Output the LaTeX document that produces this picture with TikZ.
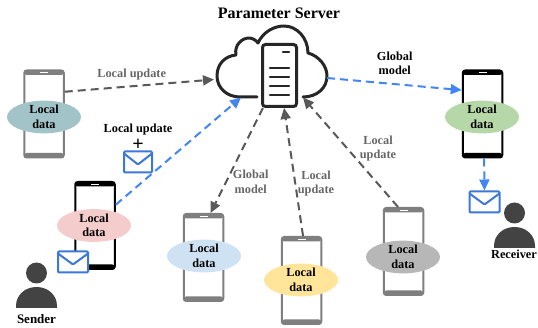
\documentclass[tikz,border=0pt]{standalone}
\usepackage{fontspec}
\setmainfont{Liberation Serif}
\usepackage{tikz}
\usetikzlibrary{arrows.meta, positioning, shapes.geometric}

\definecolor{flblue}{HTML}{4285F4}
\definecolor{mailblue}{HTML}{3C78D8}
\definecolor{flgray}{HTML}{595959}
\definecolor{phonegray}{HTML}{7F7F7F}
\definecolor{persongray}{HTML}{434343}
\definecolor{labelgray}{HTML}{666666}
\definecolor{cloudblack}{HTML}{262626}
\definecolor{datateal}{HTML}{A2C4C9}
\definecolor{datared}{HTML}{F4CCCC}
\definecolor{datablue}{HTML}{CFE2F3}
\definecolor{datayellow}{HTML}{FFE599}
\definecolor{datagray}{HTML}{B7B7B7}
\definecolor{datagreen}{HTML}{B6D7A8}

\tikzset{
   x=1pt, y=-1pt,
   txt/.style = {font=\bfseries\fontsize{12.3}{14.5}\selectfont, align=center, inner sep=0pt},
   graytxt/.style = {txt, text=labelgray},
   dataell/.style = {ellipse, minimum width=74pt, minimum height=26pt, inner sep=0pt, txt},
   upline/.style = {-{Triangle[length=11pt,width=10pt]}, flgray, line width=2pt, dash pattern=on 8pt off 5pt},
   blueline/.style = {-{Triangle[length=11pt,width=10pt]}, flblue, line width=2pt, dash pattern=on 8pt off 5pt},
   phonebox/.style = {rectangle, draw=#1, fill=white, rounded corners=2.5pt, line width=2pt,
      minimum width=39.5pt, minimum height=87pt, inner sep=0pt,
      path picture={
         \fill[#1] (path picture bounding box.north west) rectangle ([yshift=-4.5pt]path picture bounding box.north east);
         \fill[#1] (path picture bounding box.south west) rectangle ([yshift=4.5pt]path picture bounding box.south east);
         \draw[white, line width=.8pt] ([xshift=-4pt,yshift=-2pt]path picture bounding box.north) -- ([xshift=4pt,yshift=-2pt]path picture bounding box.north);
      }},
   mailbox/.style = {rectangle, draw=mailblue, fill=white, rounded corners=1pt, line width=2pt,
      minimum width=#1, minimum height=21pt, inner sep=0pt,
      path picture={
         \draw[mailblue, line width=2pt, line join=round] ([yshift=-2pt]path picture bounding box.north west)
            -- ([yshift=-13pt]path picture bounding box.north) -- ([yshift=-2pt]path picture bounding box.north east);
      }},
   serverbox/.style = {rectangle, draw=cloudblack, fill=white, rounded corners=3pt, line width=3pt,
      minimum width=34pt, minimum height=62pt, inner sep=0pt},
   serverbar/.style = {cloudblack, line width=2.6pt, line cap=round},
   personfill/.style = {fill=persongray},
}

\begin{document}
\begin{tikzpicture}
   \useasboundingbox (0,0) rectangle (538,328);

   % phones
   \node (p1)[phonebox=phonegray] at (44,114) {};
   \node (p2)[phonebox=black] at (95,225.5) {};
   \node (p3)[phonebox=phonegray] at (203.5,257.5) {};
   \node (p4)[phonebox=phonegray] at (301.5,280.5) {};
   \node (p5)[phonebox=phonegray] at (403.5,251.5) {};
   \node (p6)[phonebox=black] at (482.5,114) {};

   % cloud
   \draw[cloudblack, line width=3pt, line cap=round, line join=round]
      (257,97) -- (240,97) .. controls (227,97) and (217,88) .. (217,76)
      .. controls (217,64) and (225,56) .. (236,55)
      .. controls (234,45) and (242,38) .. (249,38)
      .. controls (252,38) and (256,40) .. (258,43)
      .. controls (263,32) and (274,26) .. (284,26)
      .. controls (297,26) and (308,38) .. (308,53)
      .. controls (319,56) and (327,66) .. (327,76)
      .. controls (327,88) and (317,97) .. (303,97);
   \coordinate (cloudw) at (214,79.5);
   \coordinate (cloudsw) at (241,97.5);
   \coordinate (cloudse) at (303,97.5);
   \coordinate (cloude) at (327,78);

   % server
   \node (srv)[serverbox] at (279.5,75.5) {};
   \foreach \y in {68,77,86,95} \draw[serverbar] (270,\y) -- (289,\y);
   \draw[serverbar] (283,52) -- (289,52);

   % mails
   \node (m1)[mailbox=28pt] at (138,162) {};
   \node (m3)[mailbox=30pt] at (484.5,202) {};

   % data
   \node (d1)[dataell, fill=datateal] at (44,117) {Local\\data};
   \node (d2)[dataell, fill=datared] at (94,225.5) {Local\\data};
   \node (d3)[dataell, fill=datablue] at (204,256) {Local\\data};
   \node (d4)[dataell, fill=datayellow] at (301,280) {Local\\data};
   \node (d5)[dataell, fill=datagray] at (403,257) {Local\\data};
   \node (d6)[dataell, fill=datagreen] at (482,117) {Local\\data};

   \node (m2)[mailbox=30pt] at (73,262) {};

   % links
   \draw[upline](p1.47) -- (cloudw);
   \draw[blueline](p2.45) -- (cloudsw);
   \draw[upline](srv.243) -- (p3.81);
   \draw[upline](p4.88) -- (srv.278);
   \draw[upline](p5.97) -- (cloudse);
   \draw[blueline](cloude) -- (p6.131);
   \draw[blueline](p6.272) -- (m3.north);

   % users
   \fill[personfill] (36.5,273) circle (10.5);
   \fill[personfill] (16,308) -- (16,306) .. controls (16,295) and (25,287) .. (36.5,287)
      .. controls (48,287) and (57,295) .. (57,306) -- (57,308) -- cycle;
   \fill[personfill] (514.5,213) circle (10.5);
   \fill[personfill] (494,248) -- (494,246) .. controls (494,235) and (503,227) .. (514.5,227)
      .. controls (526,227) and (535,235) .. (535,246) -- (535,248) -- cycle;

   % labels
   \node (title)[txt, font=\bfseries\fontsize{16}{18}\selectfont] at (279,13) {Parameter Server};
   \node (lab1)[graytxt] at (131.7,75) {Local update};
   \node (lab2)[txt] at (138,130) {Local update};
   \node (lab3)[txt, font=\bfseries\fontsize{20}{20}\selectfont] at (138,145) {+};
   \node (lab4)[txt] at (394.7,63.5) {Global\\model};
   \node (lab5)[graytxt] at (250.7,182) {Global\\model};
   \node (lab6)[graytxt] at (316,183.5) {Local\\update};
   \node (lab7)[graytxt] at (378,148.5) {Local\\update};
   \node (snd)[txt, font=\bfseries\fontsize{13}{15}\selectfont] at (36.5,319) {Sender};
   \node (rcv)[txt] at (514,254.5) {Receiver};
\end{tikzpicture}
\end{document}
